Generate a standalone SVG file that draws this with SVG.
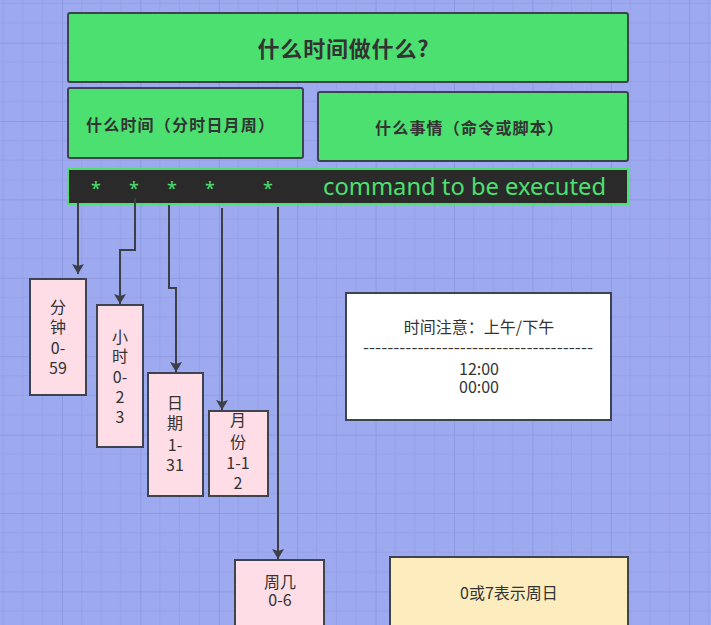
<svg xmlns="http://www.w3.org/2000/svg" width="711" height="625" viewBox="0 0 711 625">
<style>
.cjk{font-family:"Noto Sans CJK SC","Noto Sans",sans-serif;fill:#333;}
.b{font-weight:bold;}
.green{fill:#4ce070;stroke:#3d4450;stroke-width:2;}
.pink{fill:#ffdde6;stroke:#3d4450;stroke-width:2;}
.t{font-size:16px;text-anchor:middle;}
.con{fill:none;stroke:#3c3f47;stroke-width:2;}
.ast{font-family:"Noto Sans",sans-serif;font-size:18px;fill:#4ce070;text-anchor:middle;}
</style>
<defs>
<pattern id="grid" patternUnits="userSpaceOnUse" x="-16.4" y="-35.8" width="78.4" height="78.4">
<rect width="78.4" height="78.4" fill="#9eaaef"/>
<path d="M19.6 0V78.4M39.2 0V78.4M58.8 0V78.4M0 19.6H78.4M0 39.2H78.4M0 58.8H78.4" stroke="#95a0e6" stroke-width="1"/>
<path d="M0.5 0V78.4M0 0.5H78.4" stroke="#8e99df" stroke-width="1"/>
</pattern>
<marker id="ah" viewBox="0 0 10 12" refX="10" refY="6" markerWidth="10" markerHeight="12" markerUnits="userSpaceOnUse" orient="auto">
<path d="M0 0L10 6L0 12L2 6Z" fill="#3c3f47"/>
</marker>
</defs>
<rect width="711" height="625" fill="url(#grid)"/>

<g id="title">
<rect class="green" x="68" y="13" width="560" height="69" rx="2"/>
<text class="cjk b" x="343" y="57" font-size="22" text-anchor="middle" textLength="171">什么时间做什么?</text>
</g>
<g id="when">
<rect class="green" x="68" y="88" width="235" height="70" rx="2"/>
<text class="cjk b" x="180" y="131" font-size="16" text-anchor="middle" textLength="188">什么时间（分时日月周）</text>
</g>
<g id="what">
<rect class="green" x="318" y="92" width="310" height="69" rx="2"/>
<text class="cjk b" x="469" y="134" font-size="16" text-anchor="middle" textLength="188">什么事情（命令或脚本）</text>
</g>
<g id="cmdbar">
<rect x="68" y="169" width="560" height="35" fill="#2a2a2a" stroke="#4ce070" stroke-width="2"/>
<text class="ast" x="96" y="195">*</text>
<text class="ast" x="134" y="195">*</text>
<text class="ast" x="172" y="195">*</text>
<text class="ast" x="210" y="195">*</text>
<text class="ast" x="268" y="195">*</text>
<text x="323" y="195" font-family="Noto Sans, sans-serif" font-size="24" fill="#4ce070" textLength="283" lengthAdjust="spacingAndGlyphs">command to be executed</text>
</g>

<g id="connectors">
<path class="con" d="M78 203V274" marker-end="url(#ah)"/>
<path class="con" d="M135 198V250H120V304" marker-end="url(#ah)"/>
<path class="con" d="M169 205V288H176V372" marker-end="url(#ah)"/>
<path class="con" d="M222 208V410" marker-end="url(#ah)"/>
<path class="con" d="M278 207V559" marker-end="url(#ah)"/>
</g>

<g id="minute">
<rect class="pink" x="30" y="279" width="56" height="116"/>
<text class="cjk t" x="58"><tspan x="58" y="313">分</tspan><tspan x="58" y="333">钟</tspan><tspan x="58" y="354">0-</tspan><tspan x="58" y="374">59</tspan></text>
</g>
<g id="hour">
<rect class="pink" x="97" y="305" width="46" height="142"/>
<text class="cjk t"><tspan x="120" y="343">小</tspan><tspan x="120" y="362">时</tspan><tspan x="120" y="383">0-</tspan><tspan x="120" y="403">2</tspan><tspan x="120" y="423">3</tspan></text>
</g>
<g id="day">
<rect class="pink" x="148" y="373" width="55" height="123"/>
<text class="cjk t"><tspan x="175" y="409">日</tspan><tspan x="175" y="429">期</tspan><tspan x="175" y="451">1-</tspan><tspan x="175" y="471">31</tspan></text>
</g>
<g id="month">
<rect class="pink" x="209" y="411" width="59" height="85"/>
<text class="cjk t"><tspan x="238" y="426">月</tspan><tspan x="238" y="448">份</tspan><tspan x="238" y="469">1-1</tspan><tspan x="238" y="489">2</tspan></text>
</g>
<g id="week">
<rect class="pink" x="235" y="560" width="89" height="70"/>
<text class="cjk t"><tspan x="280" y="588">周几</tspan><tspan x="280" y="606">0-6</tspan></text>
</g>
<g id="note">
<rect x="346" y="293" width="265" height="127" fill="#fff" stroke="#3d4450" stroke-width="2"/>
<text class="cjk t" x="479" y="333">时间注意：上午/下午</text>
<text class="cjk" x="363" y="353" font-size="16" textLength="230" lengthAdjust="spacingAndGlyphs">--------------------------------------</text>
<text class="cjk t" x="479" y="375">12:00</text>
<text class="cjk t" x="479" y="393">00:00</text>
</g>
<g id="sunday">
<rect x="390" y="557" width="238" height="75" fill="#fdecbe" stroke="#3d4450" stroke-width="2"/>
<text class="cjk t" x="509" y="599">0或7表示周日</text>
</g>
</svg>
